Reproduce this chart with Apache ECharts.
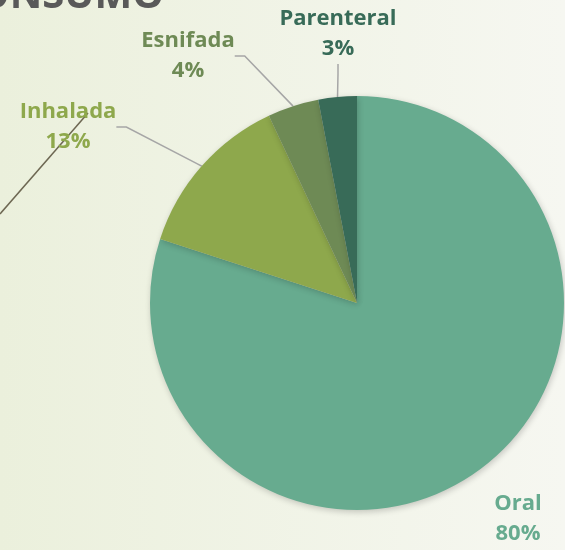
<!DOCTYPE html>
<html>
<head>
<meta charset="utf-8">
<script src="https://cdn.jsdelivr.net/npm/echarts@6/dist/echarts.min.js"></script>
<style>
  html, body { margin: 0; padding: 0; }
  #chart { width: 565px; height: 550px; }
</style>
</head>
<body>
<div id="chart"></div>
<script>
  // vías de consumo (%)
  var categories = ['Oral', 'Inhalada', 'Esnifada', 'Parenteral'];
  var values = [80, 13, 4, 3];
  var colors = ['#67ab8f', '#8ea84c', '#6e8a55', '#386b58'];
  var titleText = 'VÍAS DE CONSUMO';

  // where each label sits (centre of the two-line text)
  var labelPos = [[518, 519], [68, 127], [188, 56], [338, 34]];

  var chart = echarts.init(document.getElementById('chart'));

  var data = categories.map(function (name, i) {
    return {
      name: name,
      value: values[i],
      itemStyle: { color: colors[i] },
      label: { color: colors[i] },
      labelLine: { show: i !== 0 }
    };
  });

  var option = {
    backgroundColor: {
      type: 'linear', x: 0, y: 0, x2: 1, y2: 0,
      colorStops: [
        { offset: 0, color: '#ebf0dc' },
        { offset: 1, color: '#f6f7f1' }
      ]
    },
    graphic: [
      {
        type: 'text',
        style: {
          x: 164, y: 17,
          text: titleText,
          align: 'right',
          verticalAlign: 'bottom',
          fill: '#595959',
          font: 'bold 40px "Open Sans"'
        }
      },
      {
        type: 'line',
        shape: { x1: 88, y1: 113, x2: 0, y2: 214 },
        style: { stroke: '#6d6752', lineWidth: 1.5 }
      }
    ],
    series: [{
      type: 'pie',
      center: [357, 303],
      radius: 207,
      startAngle: 90,
      clockwise: true,
      animation: false,
      data: data,
      itemStyle: {
        shadowBlur: 6,
        shadowOffsetX: 1,
        shadowOffsetY: 2,
        shadowColor: 'rgba(0,0,0,0.2)'
      },
      label: {
        show: true,
        position: 'outside',
        formatter: '{b}\n{d}%',
        fontFamily: 'Open Sans',
        fontWeight: 'bold',
        fontSize: 22,
        lineHeight: 30,
        align: 'center'
      },
      labelLine: {
        show: true,
        length: 20,
        length2: 10,
        lineStyle: { color: '#a6a6a6', width: 1.5 }
      },
      labelLayout: function (p) {
        var pos = labelPos[p.dataIndex];
        return {
          x: pos[0],
          y: pos[1],
          align: 'center',
          verticalAlign: 'middle',
          moveOverlap: null
        };
      }
    }]
  };

  chart.setOption(option);
</script>
</body>
</html>
